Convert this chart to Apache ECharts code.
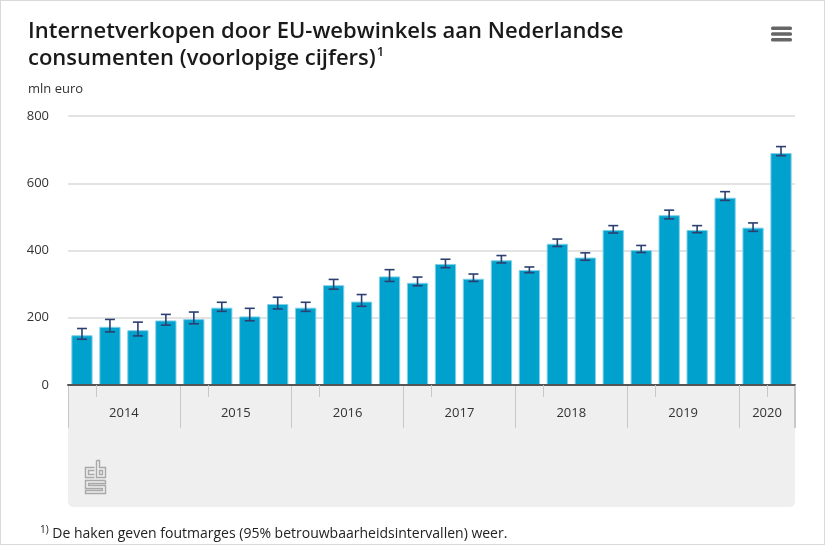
<!DOCTYPE html>
<html>
<head>
<meta charset="utf-8">
<script src="https://cdn.jsdelivr.net/npm/echarts@6/dist/echarts.min.js"></script>
<style>
html,body{margin:0;padding:0;background:#fff;}
#frame{position:absolute;left:0;top:0;width:823px;height:543px;border:1px solid #d9d9d9;}
#chart{position:absolute;left:-1px;top:-1px;width:825px;height:545px;}
</style>
</head>
<body>
<div id="frame"><div id="chart"></div></div>
<script>
const categories = [
  '2014 Q1','2014 Q2','2014 Q3','2014 Q4',
  '2015 Q1','2015 Q2','2015 Q3','2015 Q4',
  '2016 Q1','2016 Q2','2016 Q3','2016 Q4',
  '2017 Q1','2017 Q2','2017 Q3','2017 Q4',
  '2018 Q1','2018 Q2','2018 Q3','2018 Q4',
  '2019 Q1','2019 Q2','2019 Q3','2019 Q4',
  '2020 Q1','2020 Q2'
];
const values = [
  148, 173, 163, 192,
  196, 230, 204, 241,
  230, 297, 248, 323,
  304, 360, 316, 371,
  342, 420, 379, 461,
  401, 505, 461, 557,
  468, 690
];
const errLow = [
  136, 158, 146, 178,
  182, 219, 191, 226,
  219, 285, 234, 308,
  295, 349, 308, 363,
  334, 412, 371, 452,
  394, 494, 453, 549,
  457, 682
];
const errHigh = [
  168, 195, 187, 210,
  217, 246, 228, 261,
  246, 314, 269, 343,
  321, 374, 330, 385,
  351, 434, 393, 474,
  415, 520, 474, 575,
  482, 709
];
const yTicks = [0, 200, 400, 600, 800];

const FONT = 'Open Sans';
const chart = echarts.init(document.getElementById('chart'), null, {renderer: 'canvas'});

const gridLeft = 68, gridRight = 30, gridTop = 116, gridBottom = 160;
const W = 825, H = 545;
const plotW = W - gridLeft - gridRight;
const axisY = H - gridBottom;

function yearLabelShown(idx) {
  return idx % 4 === 1 || idx === categories.length - 2;
}

const option = {
  animation: false,
  title: [
    {
      left: 23, top: 13,
      text: 'Internetverkopen door EU-webwinkels aan Nederlandse\nconsumenten (voorlopige cijfers){sup|1}',
      textStyle: {
        fontFamily: FONT, fontSize: 22, fontWeight: 600, color: '#1a1a1a', lineHeight: 27,
        rich: { sup: { fontFamily: FONT, fontSize: 13, fontWeight: 600, color: '#1a1a1a', padding: [0, 0, 12, 1] } }
      }
    },
    {
      left: 23, top: 78,
      text: 'mln euro',
      textStyle: { fontFamily: FONT, fontSize: 13, fontWeight: 'normal', color: '#333' }
    },
    {
      left: 35, top: 520,
      text: '{sup|1)} De haken geven foutmarges (95% betrouwbaarheidsintervallen) weer.',
      textStyle: {
        fontFamily: FONT, fontSize: 14, fontWeight: 'normal', color: '#222',
        rich: { sup: { fontFamily: FONT, fontSize: 10, color: '#222', padding: [0, 0, 8, 0] } }
      }
    }
  ],
  grid: { left: gridLeft, right: gridRight, top: gridTop, bottom: gridBottom, containLabel: false },
  xAxis: [
    {
      type: 'category',
      data: categories,
      boundaryGap: true,
      axisLine: { show: true, lineStyle: { color: '#555', width: 2 } },
      axisTick: { show: true, length: 12, lineStyle: { color: '#c8c8c8', width: 1 } },
      axisLabel: {
        show: true,
        interval: function (idx) { return yearLabelShown(idx); },
        formatter: function (v) { return v.slice(0, 4); },
        fontFamily: FONT, fontSize: 13, color: '#333',
        margin: 22,
        padding: [0, 0, 0, plotW / categories.length]
      },
      splitLine: { show: false },
      z: 5
    },
    {
      type: 'category',
      data: categories,
      position: 'bottom',
      boundaryGap: true,
      axisLine: { show: false },
      axisTick: {
        show: true, length: 43,
        interval: function (idx) { return idx % 4 === 0; },
        lineStyle: { color: '#c8c8c8', width: 1 }
      },
      axisLabel: { show: false },
      splitLine: { show: false }
    }
  ],
  yAxis: {
    type: 'value',
    min: 0, max: 800, interval: 200,
    axisLine: { show: false },
    axisTick: { show: false },
    axisLabel: {
      fontFamily: FONT, fontSize: 13, color: '#333', margin: 19,
      formatter: function (v) { return yTicks.indexOf(v) >= 0 ? String(v) : ''; }
    },
    splitLine: { show: true, lineStyle: { color: '#e3e3e3', width: 2 } }
  },
  graphic: [
    {
      type: 'rect', z: -10, silent: true,
      shape: { x: gridLeft, y: axisY + 1, width: plotW, height: 121, r: [0, 0, 5, 5] },
      style: { fill: '#efefef' }
    },
    {
      type: 'line', z: 1, silent: true,
      shape: { x1: gridLeft + plotW - 0.5, y1: axisY, x2: gridLeft + plotW - 0.5, y2: axisY + 43 },
      style: { stroke: '#c8c8c8', lineWidth: 1 }
    },
    // menu icon
    { type: 'rect', silent: true, shape: { x: 771, y: 26.5, width: 21, height: 3.5, r: 1.5 }, style: { fill: '#666' } },
    { type: 'rect', silent: true, shape: { x: 771, y: 32.3, width: 21, height: 3.5, r: 1.5 }, style: { fill: '#666' } },
    { type: 'rect', silent: true, shape: { x: 771, y: 38.1, width: 21, height: 3.5, r: 1.5 }, style: { fill: '#666' } },
    // cbs logo (approximation)
    {
      type: 'group', silent: true, left: 83, top: 458,
      children: [
        { type: 'polyline', shape: { points: [[10, 8], [1, 8], [1, 18], [10, 18]] }, style: { stroke: '#a8a8a8', lineWidth: 1.4, fill: null } },
        { type: 'polyline', shape: { points: [[10, 11], [4, 11], [4, 15], [10, 15]] }, style: { stroke: '#a8a8a8', lineWidth: 1.4, fill: null } },
        { type: 'polyline', shape: { points: [[12, 1], [12, 18], [21, 18], [21, 8], [15, 8], [15, 1], [12, 1]] }, style: { stroke: '#a8a8a8', lineWidth: 1.4, fill: null } },
        { type: 'rect', shape: { x: 15, y: 11, width: 3, height: 4 }, style: { stroke: '#a8a8a8', lineWidth: 1.4, fill: null } },
        { type: 'polyline', shape: { points: [[21, 21], [1, 21], [1, 29], [18, 29], [18, 31], [1, 31], [1, 34], [21, 34], [21, 26], [4, 26], [4, 24], [21, 24], [21, 21]] }, style: { stroke: '#a8a8a8', lineWidth: 1.4, fill: null } }
      ]
    }
  ],
  series: [
    {
      type: 'bar',
      data: values,
      barCategoryGap: '24%',
      itemStyle: { color: '#00a1cd', borderColor: '#7fd0e6', borderWidth: 1 },
      z: 2
    },
    {
      type: 'custom',
      data: categories.map(function (c, i) { return [i, errLow[i], errHigh[i]]; }),
      encode: { x: 0, y: [1, 2] },
      z: 3,
      renderItem: function (params, api) {
        const x = api.value(0);
        const lo = api.coord([x, api.value(1)]);
        const hi = api.coord([x, api.value(2)]);
        const half = 5;
        const st = { stroke: '#2c3f70', lineWidth: 1.6 };
        return {
          type: 'group',
          children: [
            { type: 'line', shape: { x1: lo[0], y1: lo[1], x2: hi[0], y2: hi[1] }, style: st },
            { type: 'line', shape: { x1: hi[0] - half, y1: hi[1], x2: hi[0] + half, y2: hi[1] }, style: st },
            { type: 'line', shape: { x1: lo[0] - half, y1: lo[1], x2: lo[0] + half, y2: lo[1] }, style: st }
          ]
        };
      }
    }
  ]
};
chart.setOption(option);
</script>
</body>
</html>
